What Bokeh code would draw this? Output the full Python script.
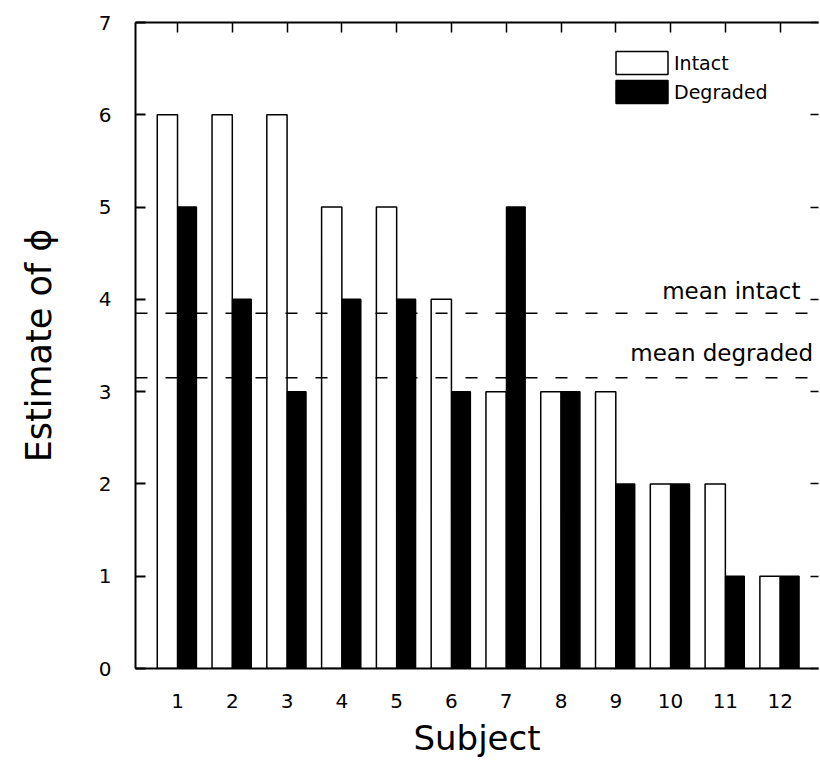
from bokeh.plotting import figure
from bokeh.models import ColumnDataSource, FixedTicker, LinearAxis, Span, Label, Legend, LegendItem, Range1d
from bokeh.transform import dodge
from bokeh.embed import file_html
from bokeh.resources import INLINE

subjects = [1, 2, 3, 4, 5, 6, 7, 8, 9, 10, 11, 12]
intact = [6, 6, 6, 5, 5, 4, 3, 3, 3, 2, 2, 1]
degraded = [5, 4, 3, 4, 4, 3, 5, 3, 2, 2, 1, 1]
mean_intact = 3.85
mean_degraded = 3.15
y_ticks = [0, 1, 2, 3, 4, 5, 6, 7]

FONT = "DejaVu Sans"

src = ColumnDataSource(dict(subject=subjects, intact=intact, degraded=degraded))

p = figure(width=819, height=760, output_backend="svg", toolbar_location=None,
           x_range=Range1d(0.233, 12.70), y_range=Range1d(0, 7),
           min_border_left=135, min_border_right=1, min_border_top=22, min_border_bottom=92)
p.outline_line_color = None
p.xgrid.visible = False
p.ygrid.visible = False
p.background_fill_color = "white"
p.border_fill_color = "white"

r_int = p.vbar(x=dodge("subject", -0.185, range=p.x_range), top="intact", width=0.37, bottom=0,
               source=src, fill_color="white", line_color="black", line_width=1.5)
r_deg = p.vbar(x=dodge("subject", 0.175, range=p.x_range), top="degraded", width=0.34, bottom=0,
               source=src, fill_color="black", line_color="black", line_width=1.5)

# axes
xa = p.xaxis[0]
xa.ticker = FixedTicker(ticks=subjects)
xa.major_tick_in = 0
xa.major_tick_out = 0
xa.minor_tick_line_color = None
xa.axis_line_width = 2
xa.major_label_standoff = 25
xa.major_label_text_font = FONT
xa.major_label_text_font_size = "20px"
xa.major_label_text_color = "black"
xa.axis_label = "Subject"
xa.axis_label_text_font = FONT
xa.axis_label_text_font_size = "34px"
xa.axis_label_text_font_style = "normal"
xa.axis_label_text_color = "black"
xa.axis_label_standoff = 7

ya = p.yaxis[0]
ya.ticker = FixedTicker(ticks=y_ticks)
ya.major_tick_in = 10
ya.major_tick_out = 0
ya.major_tick_line_width = 2
ya.minor_tick_line_color = None
ya.axis_line_width = 2
ya.major_label_standoff = 24
ya.major_label_text_font = FONT
ya.major_label_text_font_size = "20px"
ya.major_label_text_color = "black"
ya.axis_label = "Estimate of \u03d5"
ya.axis_label_text_font = FONT
ya.axis_label_text_font_size = "35px"
ya.axis_label_text_font_style = "normal"
ya.axis_label_text_color = "black"
ya.axis_label_standoff = 37

top = LinearAxis(ticker=FixedTicker(ticks=subjects), major_tick_in=10, major_tick_out=0,
                 major_tick_line_width=1.5, minor_tick_line_color=None, axis_line_width=2,
                 major_label_text_font_size="1px", major_label_text_color=None,
                 major_label_standoff=0)
p.add_layout(top, "above")
right = LinearAxis(ticker=FixedTicker(ticks=y_ticks), major_tick_in=8, major_tick_out=0,
                   major_tick_line_width=1.5, minor_tick_line_color=None, axis_line_color=None,
                   major_label_text_font_size="1px", major_label_text_color=None,
                   major_label_standoff=0)
p.add_layout(right, "right")

# mean lines
for m in (mean_intact, mean_degraded):
    p.add_layout(Span(location=m, dimension="width", line_color="black",
                      line_dash="12 18", line_width=1.5))

p.add_layout(Label(x=12.37, y=mean_intact, y_offset=9, text="mean intact", text_align="right",
                   text_baseline="bottom", text_font=FONT, text_font_size="23px", text_color="black"))
p.add_layout(Label(x=12.6, y=mean_degraded, y_offset=12, text="mean degraded", text_align="right",
                   text_baseline="bottom", text_font=FONT, text_font_size="23px", text_color="black"))

legend = Legend(items=[LegendItem(label="Intact", renderers=[r_int]),
                       LegendItem(label="Degraded", renderers=[r_deg])],
                location=(474, 562), glyph_width=65, glyph_height=29, spacing=0, padding=0,
                margin=0, label_standoff=0, border_line_color=None, background_fill_alpha=0,
                label_text_font=FONT, label_text_font_size="19px", label_text_color="black",
                label_height=25)
p.add_layout(legend)

open("out.html", "w").write(file_html(p, INLINE))
